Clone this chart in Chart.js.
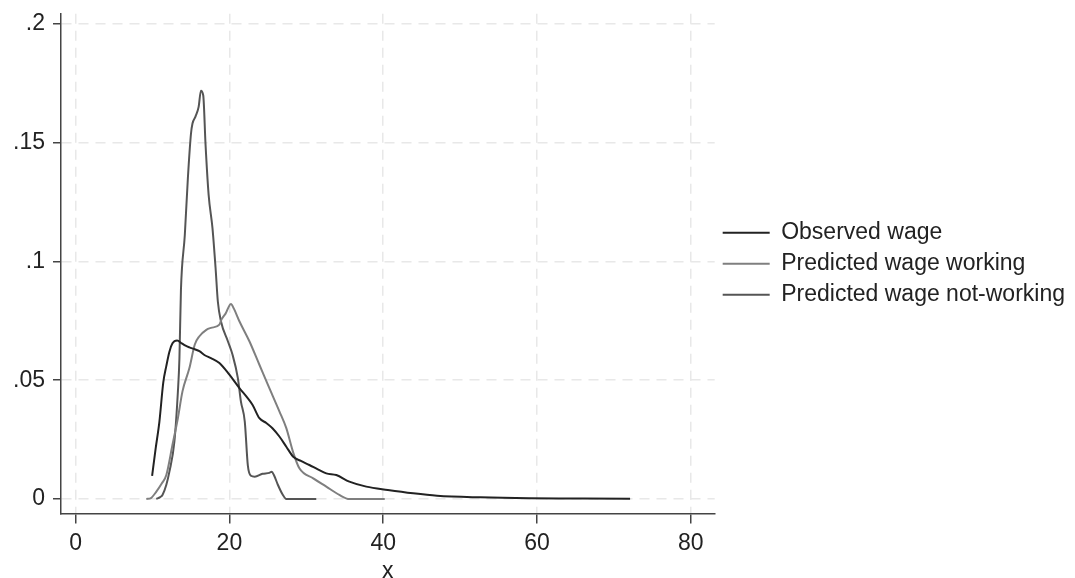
<!doctype html>
<html>
    <head>
        <meta charset="utf-8">
        <title>Wage densities</title>
        <script src="https://cdn.jsdelivr.net/npm/chart.js@4.4.1/dist/chart.umd.min.js"></script>
        <style>
            html, body { margin: 0; padding: 0; background: #fff; }
            .chartContainer { width: 1075px; height: 578px; }
        </style>
    </head>
    <body>
        <div class="chartContainer">
            <canvas id="densityChart"></canvas>
        </div>

        <script>
        // axis ticks
        var xTicks = [0, 20, 40, 60, 80];
        var yTicks = [0, 0.05, 0.1, 0.15, 0.2];
        var yTickLabels = ['0', '.05', '.1', '.15', '.2'];

        var seriesNames = ['Observed wage', 'Predicted wage working', 'Predicted wage not-working'];

        // kernel density, observed wage
        var obsX = [9.95, 10.4, 10.9, 11.4, 11.8, 12.2, 12.6, 13.2, 13.8, 14.3, 14.8, 15.5, 16.1, 16.8,
                    17.6, 18.7, 20.0, 21.3, 22.2, 23.0, 23.9, 24.8, 25.6, 26.5, 27.4, 28.3, 29.3, 30.4,
                    31.5, 32.6, 33.9, 35.6, 37.8, 40.6, 43.9, 47.0, 52.6, 59.0, 65.0, 72.1];
        var obsY = [0.0097, 0.021, 0.0326, 0.049, 0.056, 0.062, 0.0655, 0.0667, 0.0655, 0.0645, 0.0638, 0.063, 0.0622, 0.0605,
                    0.0593, 0.0572, 0.0523, 0.0467, 0.0432, 0.0397, 0.034, 0.032, 0.0298, 0.0263, 0.022, 0.0178, 0.016, 0.0143,
                    0.0125, 0.0108, 0.0101, 0.0073, 0.0052, 0.0038, 0.0024, 0.0014, 0.0007, 0.0003, 0.0002, 0.0001];

        // kernel density, predicted wage for working
        var workX = [9.2, 9.8, 10.5, 11.2, 11.8, 12.6, 13.3, 13.9, 14.8, 15.5, 16.1, 17.0, 17.6, 18.7, 19.0,
                     19.5, 20.2, 20.6, 21.3, 22.6, 23.9, 25.0, 26.5, 27.4, 28.3, 29.1, 30.9, 32.6, 34.3, 35.6, 40.2];
        var workY = [0, 0.0004, 0.0031, 0.0065, 0.0101, 0.0228, 0.034, 0.0453, 0.0551, 0.065, 0.0685, 0.0712, 0.072, 0.0734, 0.0757,
                     0.078, 0.0821, 0.080, 0.0748, 0.0664, 0.0565, 0.0481, 0.0369, 0.0298, 0.0195, 0.0129, 0.0087, 0.0052, 0.0017, 0, 0];

        // kernel density, predicted wage for not working
        var notX = [10.5, 11.0, 11.3, 11.8, 12.2, 12.85, 13.3, 13.5, 13.7, 14.2, 14.6, 15.0, 15.2, 15.6, 16.0,
                    16.3, 16.6, 16.9, 17.3, 17.8, 18.2, 18.5, 18.9, 19.8, 20.4, 21.1, 21.5, 22.0, 22.4, 22.8,
                    23.3, 24.3, 25.2, 25.5, 25.8, 26.3, 26.9, 27.4, 31.3];
        var notY = [0, 0.0008, 0.0017, 0.006, 0.0115, 0.0242, 0.045, 0.059, 0.088, 0.111, 0.135, 0.1536, 0.158, 0.161, 0.165,
                    0.1718, 0.1698, 0.149, 0.128, 0.114, 0.0973, 0.083, 0.0748, 0.0664, 0.0608, 0.0509, 0.041, 0.0326, 0.014, 0.0098,
                    0.0094, 0.0106, 0.011, 0.0115, 0.010, 0.006, 0.002, 0, 0];

        var lineColors = ['#222222', '#7f7f7f', '#555555'];

        function toPoints(xs, ys) {
            return xs.map(function (x, i) { return { x: x, y: ys[i] }; });
        }

        var FONT = "'Liberation Sans', Arial, sans-serif";

        var ctx = document.getElementById('densityChart');
        var densityChart = new Chart(ctx, {
            type: 'scatter',
            data: {
                datasets: [
                    { label: seriesNames[0], data: toPoints(obsX, obsY) },
                    { label: seriesNames[1], data: toPoints(workX, workY) },
                    { label: seriesNames[2], data: toPoints(notX, notY) }
                ].map(function (ds, i) {
                    ds.showLine = true;
                    ds.borderColor = lineColors[i];
                    ds.backgroundColor = lineColors[i];
                    ds.borderWidth = 2;
                    ds.pointRadius = 0;
                    ds.cubicInterpolationMode = 'monotone';
                    return ds;
                })
            },
            options: {
                responsive: true,
                maintainAspectRatio: false,
                animation: false,
                layout: {
                    padding: { left: 5, top: 13, right: 0, bottom: -8.5 }
                },
                scales: {
                    x: {
                        type: 'linear',
                        min: -1.9,
                        max: 83.1,
                        afterBuildTicks: function (axis) {
                            axis.ticks = xTicks.map(function (v) { return { value: v }; });
                        },
                        ticks: {
                            color: '#222',
                            padding: 8.5,
                            maxRotation: 0,
                            font: { family: FONT, size: 23, lineHeight: 1 }
                        },
                        grid: {
                            color: '#e8e8e8',
                            lineWidth: 1.5,
                            tickColor: '#444',
                            tickLength: 10,
                            tickWidth: 1.5,
                            tickBorderDash: []
                        },
                        border: { display: true, color: '#444', width: 1.5, dash: [10, 7] },
                        title: {
                            display: true,
                            text: 'x',
                            color: '#222',
                            padding: { top: -3, bottom: 3 },
                            font: { family: FONT, size: 23, lineHeight: 1 }
                        }
                    },
                    y: {
                        type: 'linear',
                        min: -0.0061,
                        max: 0.2042,
                        afterBuildTicks: function (axis) {
                            axis.ticks = yTicks.map(function (v) { return { value: v }; });
                        },
                        ticks: {
                            color: '#222',
                            padding: 8,
                            font: { family: FONT, size: 23, lineHeight: 0.5 },
                            callback: function (value) {
                                var i = yTicks.indexOf(value);
                                return i >= 0 ? yTickLabels[i] : '';
                            }
                        },
                        grid: {
                            color: '#e8e8e8',
                            lineWidth: 1.5,
                            tickColor: '#444',
                            tickLength: 8,
                            tickWidth: 1.5,
                            tickBorderDash: []
                        },
                        border: { display: true, color: '#444', width: 1.5, dash: [10, 7] }
                    }
                },
                plugins: {
                    legend: {
                        position: 'right',
                        align: 'center',
                        fullSize: false,
                        maxWidth: 420,
                        labels: {
                            color: '#222',
                            boxWidth: 47,
                            boxHeight: 2,
                            padding: 8,
                            font: { family: FONT, size: 23 },
                            generateLabels: function (chart) {
                                return chart.data.datasets.map(function (ds, i) {
                                    return {
                                        text: ds.label,
                                        fillStyle: ds.borderColor,
                                        strokeStyle: ds.borderColor,
                                        lineWidth: 0,
                                        fontColor: '#222',
                                        hidden: false,
                                        datasetIndex: i
                                    };
                                });
                            }
                        }
                    },
                    tooltip: { enabled: false }
                }
            }
        });
        </script>
    </body>
</html>
